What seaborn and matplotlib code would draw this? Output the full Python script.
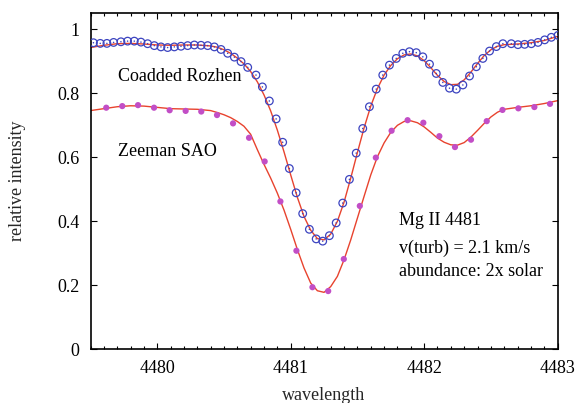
import matplotlib
matplotlib.use("Agg")
import matplotlib.pyplot as plt
import seaborn as sns
import pandas as pd
from matplotlib.ticker import MultipleLocator

# Coadded Rozhen observed spectrum
rozhen_wl = [4479.522, 4479.573, 4479.623, 4479.673, 4479.728, 4479.778, 4479.828, 4479.878,
             4479.928, 4479.978, 4480.028, 4480.078, 4480.128, 4480.178, 4480.228, 4480.278,
             4480.328, 4480.378, 4480.428, 4480.478, 4480.528, 4480.578, 4480.628, 4480.678,
             4480.740, 4480.788, 4480.840, 4480.891, 4480.940, 4480.990, 4481.041, 4481.090,
             4481.140, 4481.191, 4481.240, 4481.290, 4481.341, 4481.390, 4481.440, 4481.491,
             4481.540, 4481.590, 4481.641, 4481.690, 4481.740, 4481.791, 4481.840, 4481.890,
             4481.941, 4481.990, 4482.040, 4482.091, 4482.140, 4482.190, 4482.241, 4482.290,
             4482.340, 4482.391, 4482.440, 4482.490, 4482.541, 4482.590, 4482.653, 4482.703,
             4482.753, 4482.803, 4482.853, 4482.903, 4482.953, 4483.003]
rozhen_int = [0.958, 0.956, 0.956, 0.959, 0.961, 0.963, 0.963, 0.960,
              0.955, 0.949, 0.945, 0.943, 0.945, 0.947, 0.949, 0.951,
              0.950, 0.949, 0.945, 0.937, 0.925, 0.913, 0.899, 0.881,
              0.857, 0.820, 0.776, 0.720, 0.647, 0.565, 0.489, 0.424,
              0.375, 0.345, 0.338, 0.355, 0.395, 0.457, 0.531, 0.613,
              0.690, 0.758, 0.813, 0.857, 0.888, 0.909, 0.925, 0.930,
              0.927, 0.914, 0.891, 0.862, 0.834, 0.816, 0.813, 0.826,
              0.854, 0.883, 0.909, 0.932, 0.946, 0.955, 0.955, 0.952,
              0.953, 0.955, 0.959, 0.967, 0.975, 0.981]

# Zeeman SAO observed spectrum
sao_wl = [4479.618, 4479.738, 4479.856, 4479.976, 4480.093, 4480.213, 4480.330, 4480.448,
          4480.568, 4480.688, 4480.805, 4480.923, 4481.043, 4481.163, 4481.281, 4481.398,
          4481.518, 4481.638, 4481.756, 4481.876, 4481.994, 4482.114, 4482.231, 4482.351,
          4482.469, 4482.587, 4482.706, 4482.826, 4482.943]
sao_int = [0.755, 0.760, 0.763, 0.755, 0.747, 0.745, 0.743, 0.732,
           0.706, 0.661, 0.587, 0.462, 0.308, 0.194, 0.182, 0.282,
           0.448, 0.599, 0.683, 0.716, 0.708, 0.666, 0.632, 0.655,
           0.713, 0.748, 0.753, 0.757, 0.767]

# Synthetic model fits
model_wl = [4479.50, 4479.60, 4479.70, 4479.80, 4479.90, 4480.00, 4480.10, 4480.20, 4480.30,
            4480.40, 4480.45, 4480.50, 4480.55, 4480.60, 4480.65, 4480.70, 4480.75, 4480.80,
            4480.85, 4480.90, 4480.95, 4481.00, 4481.05, 4481.10, 4481.15, 4481.20, 4481.25,
            4481.30, 4481.35, 4481.40, 4481.45, 4481.50, 4481.55, 4481.60, 4481.65, 4481.70,
            4481.75, 4481.80, 4481.85, 4481.90, 4481.95, 4482.00, 4482.05, 4482.10, 4482.15,
            4482.20, 4482.25, 4482.30, 4482.35, 4482.40, 4482.45, 4482.50, 4482.55, 4482.60,
            4482.70, 4482.80, 4482.90, 4483.00]
model_rozhen = [0.943, 0.950, 0.955, 0.956, 0.954, 0.951, 0.950, 0.951, 0.951,
                0.948, 0.944, 0.936, 0.925, 0.910, 0.892, 0.868, 0.836, 0.795,
                0.745, 0.685, 0.617, 0.545, 0.475, 0.415, 0.372, 0.346, 0.342,
                0.360, 0.400, 0.460, 0.535, 0.615, 0.692, 0.760, 0.815, 0.857,
                0.887, 0.908, 0.920, 0.923, 0.917, 0.902, 0.880, 0.856, 0.837,
                0.827, 0.828, 0.842, 0.866, 0.893, 0.918, 0.936, 0.947, 0.952,
                0.954, 0.958, 0.965, 0.978]
model_sao = [0.746, 0.752, 0.758, 0.761, 0.760, 0.756, 0.752, 0.751, 0.750,
             0.746, 0.740, 0.733, 0.724, 0.712, 0.697, 0.672, 0.624, 0.578,
             0.535, 0.488, 0.435, 0.375, 0.312, 0.254, 0.207, 0.183, 0.178,
             0.196, 0.228, 0.280, 0.342, 0.410, 0.478, 0.545, 0.602, 0.645,
             0.678, 0.700, 0.712, 0.714, 0.708, 0.695, 0.678, 0.660, 0.647,
             0.639, 0.638, 0.646, 0.663, 0.684, 0.706, 0.726, 0.741, 0.750,
             0.756, 0.761, 0.768, 0.777]

x_ticks = [4480, 4481, 4482, 4483]
y_ticks = [0, 0.2, 0.4, 0.6, 0.8, 1]
y_tick_labels = ["0", "0.2", "0.4", "0.6", "0.8", "1"]

sns.set_theme(style="ticks")
plt.rcParams["font.family"] = ["Liberation Serif", "DejaVu Serif"]

W, H = 579, 403
fig = plt.figure(figsize=(W / 100, H / 100), dpi=100)
left, right, bottom, top = 90.5, 557.6, 349.3, 13.0
ax = fig.add_axes([left / W, 1 - bottom / H, (right - left) / W, (bottom - top) / H])

df_r = pd.DataFrame({"wl": rozhen_wl, "I": rozhen_int})
df_s = pd.DataFrame({"wl": sao_wl, "I": sao_int})
df_m = pd.DataFrame({"wl": model_wl, "r": model_rozhen, "s": model_sao})

red = "#e8432e"
blue = "#3c44c0"
mag = "#c24ec6"

sns.lineplot(data=df_m, x="wl", y="r", ax=ax, color=red, lw=1.0, zorder=2)
sns.lineplot(data=df_m, x="wl", y="s", ax=ax, color=red, lw=1.0, zorder=2)
sns.scatterplot(data=df_r, x="wl", y="I", ax=ax, marker="o", s=30, facecolor="none",
                edgecolor=blue, linewidth=0.9, zorder=3)
sns.scatterplot(data=df_r, x="wl", y="I", ax=ax, marker="o", s=1.2, color=blue,
                edgecolor="none", zorder=3)
sns.scatterplot(data=df_s, x="wl", y="I", ax=ax, marker="o", s=20, color=mag,
                edgecolor="none", zorder=3)

ax.set_xlim(4479.5, 4483)
ax.set_ylim(0, (bottom - top) / 320.0)
ax.set_xticks(x_ticks)
ax.set_xticklabels([str(t) for t in x_ticks])
ax.xaxis.set_minor_locator(MultipleLocator(0.1))
ax.set_yticks(y_ticks)
ax.set_yticklabels(y_tick_labels)

ax.tick_params(axis="both", which="both", direction="in", top=True, right=True,
               colors="black", labelsize=13)
ax.tick_params(axis="both", which="major", length=4.5, width=0.8, pad=8)
ax.tick_params(axis="x", which="minor", length=2.2, width=0.8)
for sp in ax.spines.values():
    sp.set_linewidth(1.2)
    sp.set_color("black")

ax.set_xlabel("wavelength", fontsize=13)
ax.set_ylabel("relative intensity", fontsize=13)
ax.xaxis.set_label_coords(0.5, (bottom - 399.5) / (bottom - top))
ax.xaxis.label.set_va("baseline")
ax.yaxis.set_label_coords((26 - left) / (right - left), 0.5)

txt = dict(fontsize=13, va="center", ha="left", color="black")
ax.text(4479.706, 0.852, "Coadded Rozhen", **txt)
ax.text(4479.706, 0.6175, "Zeeman SAO", **txt)
ax.text(4481.813, 0.401, "Mg II 4481", **txt)
ax.text(4481.813, 0.316, "v(turb) = 2.1 km/s", **txt)
ax.text(4481.813, 0.2425, "abundance: 2x solar", **txt)

fig.savefig("out.png", dpi=100)
